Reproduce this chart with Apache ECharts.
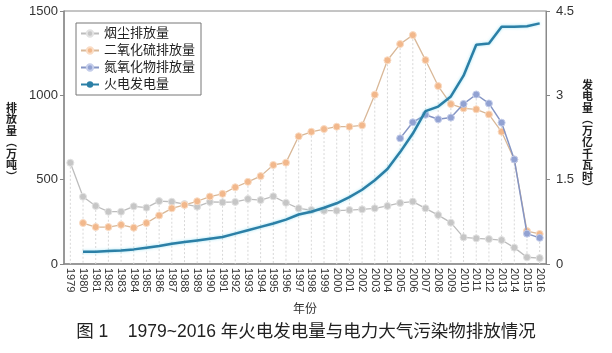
<!DOCTYPE html>
<html>
<head>
<meta charset="utf-8">
<script src="https://cdn.jsdelivr.net/npm/echarts@6/dist/echarts.min.js"></script>
<style>
html, body { margin: 0; padding: 0; background: #fff; }
#chart { width: 612px; height: 353px; }
</style>
</head>
<body>
<div id="chart"></div>
<script>
var years = ['1979','1980','1981','1982','1983','1984','1985','1986','1987','1988',
  '1989','1990','1991','1992','1993','1994','1995','1996','1997','1998',
  '1999','2000','2001','2002','2003','2004','2005','2006','2007','2008',
  '2009','2010','2011','2012','2013','2014','2015','2016'];

// 烟尘 (万吨)
var soot = [600, 399, 344, 310, 310, 342, 334, 373, 369, 355,
  340, 368, 366, 368, 385, 379, 401, 363, 330, 320,
  316, 316, 320, 324, 330, 344, 362, 370, 330, 290,
  245, 158, 152, 148, 142, 97, 40, 35];

// 二氧化硫 (万吨)
var so2 = [null, 243, 219, 219, 232, 215, 243, 288, 330, 350,
  372, 400, 416, 455, 487, 521, 587, 601, 757, 784,
  800, 814, 814, 822, 1004, 1208, 1304, 1357, 1209, 1055,
  948, 923, 917, 887, 784, 620, 195, 178];

// 氮氧化物 (万吨)
var nox = [null, null, null, null, null, null, null, null, null, null,
  null, null, null, null, null, null, null, null, null, null,
  null, null, null, null, null, null, 745, 840, 885, 858,
  868, 949, 1005, 952, 838, 620, 180, 155];

// 火电发电量 (万亿千瓦时)
var power = [null, 0.22, 0.22, 0.23, 0.24, 0.26, 0.29, 0.32, 0.36, 0.39,
  0.42, 0.45, 0.48, 0.54, 0.60, 0.66, 0.72, 0.79, 0.88, 0.93,
  1.00, 1.08, 1.19, 1.32, 1.49, 1.69, 1.99, 2.32, 2.72, 2.80,
  2.98, 3.35, 3.90, 3.92, 4.22, 4.22, 4.23, 4.28];

var leftTicks = [0, 500, 1000, 1500];
var rightTicks = [0, 1.5, 3, 4.5];

var font = '"Liberation Sans", "Noto Sans CJK SC", sans-serif';

// dotted drop lines from the highest emission marker of each year
var drops = years.map(function (y, i) {
  var m = Math.max(soot[i] || 0, so2[i] || 0, nox[i] || 0);
  return [i, m];
});

var chart = echarts.init(document.getElementById('chart'), null, { renderer: 'canvas' });

var option = {
  backgroundColor: '#fff',
  animation: false,
  textStyle: { fontFamily: font },
  grid: {
    left: 64, right: 66, top: 11, bottom: 89,
    show: true, borderColor: '#8a8a8a', borderWidth: 1
  },
  legend: {
    orient: 'vertical',
    left: 76, top: 23,
    padding: [4, 6, 4, 4],
    itemGap: 4,
    itemWidth: 18, itemHeight: 8,
    borderColor: '#777', borderWidth: 1,
    backgroundColor: '#fff',
    textStyle: { fontSize: 13, color: '#222', fontFamily: font },
    data: ['烟尘排放量', '二氧化硫排放量', '氮氧化物排放量', '火电发电量']
  },
  xAxis: {
    type: 'category',
    data: years,
    boundaryGap: true,
    name: '年份',
    nameLocation: 'middle',
    nameGap: 40,
    nameTextStyle: { fontSize: 12, color: '#333' },
    axisLine: { lineStyle: { color: '#8a8a8a', width: 1.5 } },
    axisTick: { alignWithLabel: true, length: 3, lineStyle: { color: '#999' } },
    axisLabel: { rotate: -90, interval: 0, fontSize: 11, color: '#333', margin: 4 },
    splitLine: { show: false }
  },
  yAxis: [{
    type: 'value',
    min: leftTicks[0], max: leftTicks[leftTicks.length - 1], interval: 500,
    axisLine: { show: true, lineStyle: { color: '#8a8a8a', width: 1.5 } },
    axisTick: { show: true, length: 4, lineStyle: { color: '#888' } },
    axisLabel: { fontSize: 13, color: '#333', margin: 6, formatter: function (v) { return String(v); } },
    splitLine: { show: false }
  }, {
    type: 'value',
    position: 'right',
    min: rightTicks[0], max: rightTicks[rightTicks.length - 1], interval: 1.5,
    axisLine: { show: true, lineStyle: { color: '#8a8a8a', width: 1 } },
    axisTick: { show: true, length: 4, lineStyle: { color: '#888' } },
    axisLabel: { fontSize: 13, color: '#333', margin: 10, formatter: function (v) { return String(v); } },
    splitLine: { show: false }
  }],
  graphic: [{
    type: 'text', left: 6, top: 102,
    style: { text: '排\n放\n量\n︵\n万\n吨\n︶', fontSize: 11, lineHeight: 11.5, fill: '#222', fontFamily: '"Noto Sans CJK SC", sans-serif', fontWeight: 'bold' }
  }, {
    type: 'text', left: 582, top: 79,
    style: { text: '发\n电\n量\n︵\n万\n亿\n千\n瓦\n时\n︶', fontSize: 11, lineHeight: 11.5, fill: '#222', fontFamily: '"Noto Sans CJK SC", sans-serif', fontWeight: 'bold' }
  }, {
    type: 'text', left: 'center', top: 323,
    style: { text: '图 1    1979~2016 年火电发电量与电力大气污染物排放情况', fontSize: 17.5, fill: '#222', fontFamily: font }
  }],
  series: [{
    name: 'drop',
    type: 'custom',
    silent: true,
    z: 1,
    data: drops,
    renderItem: function (params, api) {
      var top = api.coord([api.value(0), api.value(1)]);
      var bot = api.coord([api.value(0), 0]);
      return {
        type: 'line',
        shape: { x1: top[0], y1: top[1], x2: bot[0], y2: bot[1] },
        style: { stroke: '#d8d8d8', lineWidth: 1, lineDash: [2, 2] }
      };
    }
  }, {
    name: '烟尘排放量',
    type: 'line',
    data: soot,
    z: 3,
    symbol: 'circle', symbolSize: 7,
    lineStyle: { color: '#bdbdbd', width: 1.3 },
    itemStyle: { color: '#c6c6c6', borderColor: '#e2e2e2', borderWidth: 1 }
  }, {
    name: '二氧化硫排放量',
    type: 'line',
    data: so2,
    z: 3,
    symbol: 'circle', symbolSize: 7,
    lineStyle: { color: '#d9b898', width: 1.3 },
    itemStyle: { color: '#f2b88c', borderColor: '#fadcc4', borderWidth: 1 }
  }, {
    name: '氮氧化物排放量',
    type: 'line',
    data: nox,
    z: 4,
    symbol: 'circle', symbolSize: 7,
    lineStyle: { color: '#8595c4', width: 1.5 },
    itemStyle: { color: '#92a2d2', borderColor: '#c4cdea', borderWidth: 1 }
  }, {
    name: '火电发电量',
    type: 'line',
    yAxisIndex: 1,
    data: power,
    z: 5,
    symbol: 'none',
    lineStyle: { color: '#2b7fa6', width: 2.5, shadowColor: 'rgba(120,215,240,0.7)', shadowBlur: 3 },
    itemStyle: { color: '#2b7fa6' }
  }]
};

chart.setOption(option);
</script>
</body>
</html>
